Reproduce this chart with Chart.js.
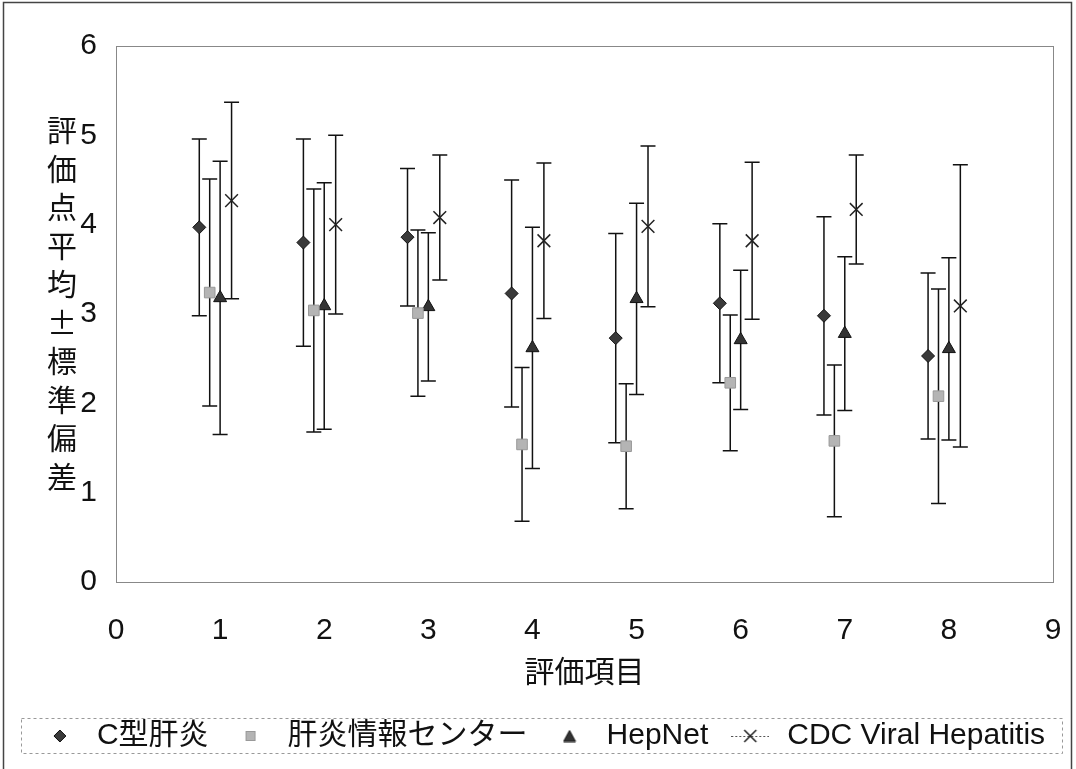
<!DOCTYPE html>
<html>
<head>
<meta charset="utf-8">
<script src="https://cdn.jsdelivr.net/npm/chart.js@4"></script>
<style>
  body { margin: 0; background: #fff; }
</style>
</head>
<body>
<canvas id="errCanvas" width="1076" height="769"></canvas>
<script>
// 評価項目 1..8
const items = [1, 2, 3, 4, 5, 6, 7, 8];
const seriesNames = ["C型肝炎", "肝炎情報センター", "HepNet", "CDC Viral Hepatitis"];
// x offset of each series inside an item group
const offsets = [-0.2, -0.1, 0, 0.11];

const meanC   = [3.97, 3.80, 3.86, 3.23, 2.73, 3.12, 2.98, 2.53];
const sdC     = [0.99, 1.16, 0.77, 1.27, 1.17, 0.89, 1.11, 0.93];
const meanCtr = [3.24, 3.04, 3.01, 1.54, 1.52, 2.23, 1.58, 2.08];
const sdCtr   = [1.27, 1.36, 0.93, 0.86, 0.70, 0.76, 0.85, 1.20];
const meanHep = [3.18, 3.09, 3.08, 2.62, 3.17, 2.71, 2.78, 2.61];
const sdHep   = [1.53, 1.38, 0.83, 1.35, 1.07, 0.78, 0.86, 1.02];
const meanCdc = [4.27, 4.00, 4.08, 3.82, 3.98, 3.82, 4.17, 3.09];
const sdCdc   = [1.10, 1.00, 0.70, 0.87, 0.90, 0.88, 0.61, 1.58];

const yTicks = [0, 1, 2, 3, 4, 5, 6];
const xTicks = [0, 1, 2, 3, 4, 5, 6, 7, 8, 9];
const yTitle = "評価点平均±標準偏差";
const xTitle = "評価項目";

const FONT = '"Liberation Sans", Arial, "Noto Sans CJK JP", sans-serif';

function points(means, sds, k) {
    return items.map((it, i) => ({ x: it + offsets[k], y: means[i], sd: sds[i] }));
}

// small canvases used as legend markers
function marker(kind) {
    const c = document.createElement('canvas');
    const g = c.getContext('2d');
    if (kind === 'diamond') {
        c.width = 14; c.height = 14;
        g.fillStyle = '#3a3a3a'; g.strokeStyle = '#111'; g.lineWidth = 1;
        g.beginPath(); g.moveTo(7, 1); g.lineTo(13, 7); g.lineTo(7, 13); g.lineTo(1, 7); g.closePath();
        g.fill(); g.stroke();
    } else if (kind === 'square') {
        c.width = 12; c.height = 12;
        g.fillStyle = '#b4b4b4'; g.strokeStyle = '#999'; g.lineWidth = 1;
        g.fillRect(1, 1, 10, 10); g.strokeRect(1.5, 1.5, 9, 9);
    } else if (kind === 'triangle') {
        c.width = 14; c.height = 13;
        g.fillStyle = '#333'; g.strokeStyle = '#111'; g.lineWidth = 1;
        g.beginPath(); g.moveTo(7, 1); g.lineTo(13, 12); g.lineTo(1, 12); g.closePath();
        g.fill(); g.stroke();
    } else {
        c.width = 38; c.height = 16;
        g.strokeStyle = '#555'; g.lineWidth = 1;
        g.setLineDash([2, 2]);
        g.beginPath(); g.moveTo(0, 8.5); g.lineTo(38, 8.5); g.stroke();
        g.setLineDash([]);
        g.strokeStyle = '#222'; g.lineWidth = 1.5;
        g.beginPath(); g.moveTo(13, 2); g.lineTo(25, 14); g.moveTo(25, 2); g.lineTo(13, 14); g.stroke();
    }
    return c;
}
const legendMarkers = [marker('diamond'), marker('square'), marker('triangle'), marker('cross')];

const errorBars = {
    id: 'errorBars',
    beforeDatasetsDraw(chart) {
        const { ctx, scales: { x, y } } = chart;
        ctx.save();
        ctx.strokeStyle = '#111';
        ctx.lineWidth = 1.5;
        chart.data.datasets.forEach(ds => {
            ds.data.forEach(p => {
                const px = x.getPixelForValue(p.x);
                const top = y.getPixelForValue(p.y + p.sd);
                const bot = y.getPixelForValue(p.y - p.sd);
                ctx.beginPath();
                ctx.moveTo(px, top); ctx.lineTo(px, bot);
                ctx.moveTo(px - 7.5, top); ctx.lineTo(px + 7.5, top);
                ctx.moveTo(px - 7.5, bot); ctx.lineTo(px + 7.5, bot);
                ctx.stroke();
            });
        });
        ctx.restore();
    }
};

const frame = {
    id: 'frame',
    beforeDraw(chart) {
        // nudge the legend row a little to the right, like the original
        chart.legend.left = 15;
        chart.legend.right = 1068;
    },
    afterDraw(chart) {
        const { ctx, chartArea: a } = chart;
        ctx.save();
        // plot area border
        ctx.strokeStyle = '#888';
        ctx.lineWidth = 1;
        ctx.strokeRect(a.left + 0.5, a.top + 0.5, a.right - a.left, a.bottom - a.top);
        // outer frame
        ctx.strokeStyle = '#444';
        ctx.lineWidth = 1.5;
        ctx.beginPath();
        ctx.moveTo(3.5, 769); ctx.lineTo(3.5, 2.5); ctx.lineTo(1071.5, 2.5); ctx.lineTo(1071.5, 769);
        ctx.stroke();
        // legend box
        const lg = chart.legend;
        ctx.strokeStyle = '#999';
        ctx.lineWidth = 1;
        ctx.setLineDash([3, 3]);
        ctx.strokeRect(21.5, lg.top + 17.5, 1041, 35);
        ctx.setLineDash([]);
        // vertical y title, one character per line
        ctx.fillStyle = '#111';
        ctx.font = '30px "Noto Sans CJK JP", sans-serif';
        ctx.textAlign = 'center';
        ctx.textBaseline = 'middle';
        [...yTitle].forEach((ch, i) => ctx.fillText(ch, 62, 130 + i * 38.5));
        ctx.restore();
    }
};

new Chart(document.getElementById('errCanvas'), {
    type: 'scatter',
    data: {
        datasets: [
            { label: seriesNames[0], data: points(meanC, sdC, 0), pointStyle: 'rectRot', pointRadius: 6.5,
              backgroundColor: '#3a3a3a', borderColor: '#111', borderWidth: 1 },
            { label: seriesNames[1], data: points(meanCtr, sdCtr, 1), pointStyle: 'rect', pointRadius: 7.5,
              backgroundColor: '#b4b4b4', borderColor: '#999', borderWidth: 1 },
            { label: seriesNames[2], data: points(meanHep, sdHep, 2), pointStyle: 'triangle', pointRadius: 7.5,
              backgroundColor: '#333', borderColor: '#111', borderWidth: 1 },
            { label: seriesNames[3], data: points(meanCdc, sdCdc, 3), pointStyle: 'crossRot', pointRadius: 9,
              backgroundColor: '#222', borderColor: '#222', borderWidth: 1.5 }
        ]
    },
    options: {
        responsive: false,
        animation: false,
        layout: { padding: { top: 46, left: 0, right: 23, bottom: 8 } },
        plugins: {
            tooltip: { enabled: false },
            legend: {
                position: 'bottom',
                labels: {
                    usePointStyle: true,
                    pointStyleWidth: 44,
                    boxHeight: 9,
                    padding: 20,
                    color: '#111',
                    font: { size: 30, family: FONT },
                    generateLabels(chart) {
                        return chart.data.datasets.map((ds, i) => ({
                            text: ds.label,
                            pointStyle: legendMarkers[i],
                            fillStyle: ds.backgroundColor,
                            strokeStyle: ds.borderColor,
                            lineWidth: 0,
                            fontColor: '#111',
                            hidden: false,
                            datasetIndex: i
                        }));
                    }
                }
            }
        },
        scales: {
            x: {
                type: 'linear',
                min: 0,
                max: 9,
                afterBuildTicks(scale) { scale.ticks = xTicks.map(v => ({ value: v })); },
                afterFit(scale) { scale.height = 119; scale.paddingLeft = 0; scale.paddingRight = 0; },
                grid: { display: false, drawTicks: false },
                border: { display: false },
                ticks: { padding: 31, color: '#111', font: { size: 30, family: FONT } },
                title: { display: true, text: xTitle, color: '#111', padding: { top: 0, bottom: 12 },
                         font: { size: 30, family: '"Noto Sans CJK JP", sans-serif' } }
            },
            y: {
                min: 0,
                max: 6,
                afterBuildTicks(scale) { scale.ticks = yTicks.map(v => ({ value: v })); },
                afterFit(scale) { scale.width = 116; },
                grid: { display: false, drawTicks: false },
                border: { display: false },
                ticks: { padding: 19, color: '#111', font: { size: 30, family: FONT } }
            }
        }
    },
    plugins: [errorBars, frame]
});
</script>
</body>
</html>
